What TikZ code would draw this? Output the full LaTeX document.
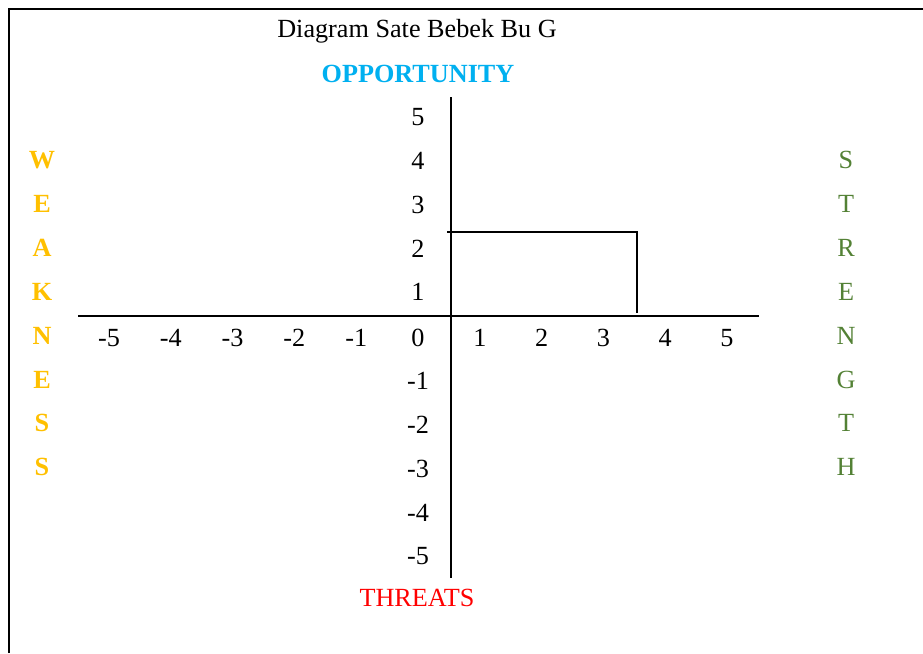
\documentclass[tikz,border=0pt]{standalone}
\usepackage{fontspec}
\setmainfont{Liberation Serif}
\definecolor{oppblue}{HTML}{00B0F0}
\definecolor{weakgold}{HTML}{FFC000}
\definecolor{strgreen}{HTML}{538135}
\definecolor{thrred}{HTML}{FF0000}
\begin{document}
\begin{tikzpicture}[x=1pt,y=-1pt,
  lbl/.style={inner sep=0pt,font=\fontsize{26.2}{31}\selectfont},
  boldlbl/.style={lbl,font=\fontsize{26.2}{31}\selectfont\bfseries},
  axisline/.style={line width=2pt},
  frameline/.style={line width=2.2pt},
  markline/.style={line width=1.6pt}]
\useasboundingbox (0,0) rectangle (923,653);
\fill[white] (0,0) rectangle (923,653);
% frame
\draw[frameline] (9,653) -- (9,9) -- (923,9);
% title and quadrant names
\node[lbl] (title) at (417,31) {Diagram Sate Bebek Bu G};
\node[boldlbl,text=oppblue] (opp) at (418,74) {OPPORTUNITY};
\node[lbl,text=thrred] (thr) at (417,598) {THREATS};
% axes
\coordinate (ytop) at (451,97);
\coordinate (ybot) at (451,578);
\coordinate (xleft) at (78,316);
\coordinate (xright) at (759,316);
\draw[axisline] (ytop) -- (ybot);
\draw[axisline] (xleft) -- (xright);
% x tick labels
\foreach \v [count=\i from 0] in {-5,-4,-3,-2,-1,0,1,2,3,4,5}
  \node[lbl] (xl\i) at ({109+61.8*\i},338) {\v};
% y tick labels (0 is shared with the x row)
\foreach \v [count=\i from 0] in {5,4,3,2,1}
  \node[lbl] (yp\i) at (418,{117+43.8*\i}) {\v};
\foreach \v [count=\i from 0] in {-1,-2,-3,-4,-5}
  \node[lbl] (yn\i) at (418,{381+43.8*\i}) {\v};
% position marker
\coordinate (m1) at (447,232);
\coordinate (m2) at (637,232);
\coordinate (m3) at (637,313);
\draw[markline] (m1) -- (m2) -- (m3);
% side words
\foreach \c [count=\i from 0] in {W,E,A,K,N,E,S,S}
  \node[boldlbl,text=weakgold] (w\i) at (42,{160+43.9*\i}) {\c};
\foreach \c [count=\i from 0] in {S,T,R,E,N,G,T,H}
  \node[lbl,text=strgreen] (s\i) at (846,{160+43.9*\i}) {\c};
\end{tikzpicture}
\end{document}
